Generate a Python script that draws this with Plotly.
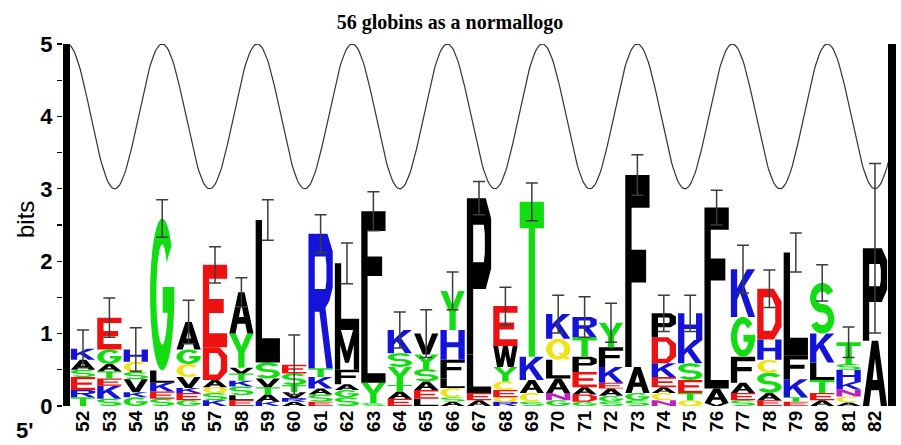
import math
import plotly.graph_objects as go

# ---------------- data ----------------
positions = list(range(52, 83))
tick_labels = [str(p) for p in positions]

# letters of each stack, bottom -> top
stack_letters = [
    "TRESAK", "SKETAGE", "GKVSCH", "SEKLG", "GEKVCGA", "KSQADE", "ELSKTVYA",
    "KATVSL", "ARVTSE", "ESAKTR", "SGAFML", "SYLF", "EATYSK", "LEASYV",
    "ASCLFHY", "AELP", "RQECYWE", "SCAKT", "GNALQK", "GDAEPTR", "SGAEKFY",
    "SGAF", "NCAEKDP", "QTESKH", "VALF", "SEAFGK", "EASCHD", "ETKFL",
    "AETLKS", "ACNKHST", "AP",
]
# heights in bits, bottom -> top
stack_heights = [
    [0.12, 0.10, 0.18, 0.10, 0.14, 0.15],
    [0.10, 0.18, 0.10, 0.10, 0.10, 0.20, 0.44],
    [0.12, 0.07, 0.18, 0.10, 0.14, 0.17],
    [0.10, 0.10, 0.12, 0.17, 2.10],
    [0.08, 0.10, 0.07, 0.15, 0.18, 0.20, 0.38],
    [0.08, 0.10, 0.08, 0.10, 0.45, 1.14],
    [0.08, 0.07, 0.12, 0.08, 0.10, 0.08, 0.47, 0.57],
    [0.06, 0.10, 0.10, 0.12, 0.22, 1.97],
    [0.06, 0.05, 0.08, 0.10, 0.16, 0.12],
    [0.06, 0.10, 0.08, 0.16, 0.12, 1.86],
    [0.12, 0.10, 0.08, 0.20, 0.55, 0.92],
    [0.04, 0.28, 0.77, 1.60],
    [0.10, 0.10, 0.09, 0.25, 0.19, 0.32],
    [0.10, 0.12, 0.12, 0.17, 0.20, 0.29],
    [0.06, 0.06, 0.13, 0.13, 0.26, 0.41, 0.54],
    [0.08, 0.10, 0.53, 2.16],
    [0.06, 0.06, 0.10, 0.12, 0.20, 0.29, 0.55],
    [0.06, 0.12, 0.18, 0.32, 2.14],
    [0.08, 0.10, 0.20, 0.26, 0.29, 0.34],
    [0.06, 0.10, 0.10, 0.21, 0.21, 0.27, 0.28],
    [0.06, 0.08, 0.10, 0.08, 0.22, 0.27, 0.34],
    [0.08, 0.10, 0.36, 2.65],
    [0.08, 0.10, 0.08, 0.14, 0.19, 0.36, 0.33],
    [0.08, 0.10, 0.18, 0.23, 0.32, 0.37],
    [0.04, 0.20, 0.70, 1.80],
    [0.08, 0.10, 0.14, 0.36, 0.55, 0.66],
    [0.08, 0.10, 0.28, 0.18, 0.28, 0.70],
    [0.06, 0.06, 0.25, 0.33, 1.42],
    [0.08, 0.10, 0.18, 0.24, 0.40, 0.70],
    [0.05, 0.08, 0.10, 0.10, 0.17, 0.08, 0.30],
    [0.90, 1.28],
]
# top of the error bar (bits)
error_tops = [
    1.05, 1.49, 1.08, 2.85, 1.46, 2.20, 1.77, 2.85, 0.98, 2.64, 2.25, 2.96,
    1.30, 1.33, 1.85, 3.10, 1.64, 3.08, 1.53, 1.51, 1.42, 3.47, 1.53, 1.53,
    2.98, 2.22, 1.88, 2.39, 1.95, 1.09, 3.35,
]

# helical wave (3.6 residues per turn)
wave_mid = 4.0
wave_amp = 1.0
wave_period = 3.6
wave_peak_pos = 55.0
wave_start, wave_end = 51.4, 82.55

title_text = "56 globins as a normallogo"

colors = {
    "G": "#12dd12", "S": "#12dd12", "T": "#12dd12", "Y": "#12dd12",
    "K": "#1414d8", "R": "#1414d8", "H": "#1414d8",
    "D": "#ee1111", "E": "#ee1111",
    "C": "#efe31a", "Q": "#efe31a", "N": "#c020c0",
}
BLACK = "#000000"

# ---------------- glyphs (unit box) ----------------
SW = 0.26
BH = 0.17


def arc(cx, cy, rx, ry, a0, a1, n=28):
    pts = []
    for i in range(n + 1):
        a = math.radians(a0 + (a1 - a0) * i / n)
        pts.append((cx + rx * math.cos(a), cy + ry * math.sin(a)))
    return pts


def rect(x0, y0, x1, y1):
    return [(x0, y0), (x1, y0), (x1, y1), (x0, y1)]


def glyph(ch):
    m = 0.5 - BH / 2
    if ch == "E":
        return [([(0, 0), (1, 0), (1, BH), (SW, BH), (SW, m), (0.86, m), (0.86, m + BH),
                  (SW, m + BH), (SW, 1 - BH), (1, 1 - BH), (1, 1), (0, 1)], False)]
    if ch == "F":
        return [([(0, 0), (SW, 0), (SW, 0.44), (0.86, 0.44), (0.86, 0.61), (SW, 0.61),
                  (SW, 1 - BH), (1, 1 - BH), (1, 1), (0, 1)], False)]
    if ch == "L":
        return [([(0, 0), (1, 0), (1, BH), (SW, BH), (SW, 1), (0, 1)], False)]
    if ch == "T":
        a, b = 0.5 - SW / 2, 0.5 + SW / 2
        return [([(0, 1), (0, 1 - BH), (a, 1 - BH), (a, 0), (b, 0), (b, 1 - BH),
                  (1, 1 - BH), (1, 1)], False)]
    if ch == "I":
        return [(rect(0.34, 0, 0.66, 1), False)]
    if ch == "H":
        return [([(0, 0), (SW, 0), (SW, m), (1 - SW, m), (1 - SW, 0), (1, 0), (1, 1),
                  (1 - SW, 1), (1 - SW, m + BH), (SW, m + BH), (SW, 1), (0, 1)], False)]
    if ch == "P":
        outer = [(0, 0), (SW, 0), (SW, 0.42), (0.78, 0.42), (1, 0.55), (1, 0.87),
                 (0.78, 1), (0, 1)]
        hole = [(SW, 0.59), (0.7, 0.59), (1 - SW, 0.65), (1 - SW, 0.77), (0.7, 1 - BH),
                (SW, 1 - BH)]
        return [(outer, False), (hole, True)]
    if ch == "R":
        outer = [(0, 0), (SW, 0), (SW, 0.42), (0.45, 0.42), (0.74, 0), (1, 0),
                 (0.7, 0.45), (0.86, 0.5), (1, 0.6), (1, 0.87), (0.78, 1), (0, 1)]
        hole = [(SW, 0.59), (0.7, 0.59), (1 - SW, 0.65), (1 - SW, 0.77), (0.7, 1 - BH),
                (SW, 1 - BH)]
        return [(outer, False), (hole, True)]
    if ch == "D":
        outer = [(0, 0), (0.68, 0), (1, 0.25), (1, 0.75), (0.68, 1), (0, 1)]
        hole = [(SW, BH), (0.6, BH), (1 - SW, 0.33), (1 - SW, 0.67), (0.6, 1 - BH),
                (SW, 1 - BH)]
        return [(outer, False), (hole, True)]
    if ch == "K":
        return [([(0, 0), (SW, 0), (SW, 0.36), (0.38, 0.5), (0.72, 0), (1, 0),
                  (0.56, 0.64), (1, 1), (0.66, 1), (SW, 0.6), (SW, 1), (0, 1)], False)]
    if ch == "A":
        outer = [(0, 0), (0.26, 0), (0.34, 0.24), (0.66, 0.24), (0.74, 0), (1, 0),
                 (0.63, 1), (0.37, 1)]
        hole = [(0.4, 0.4), (0.6, 0.4), (0.5, 0.72)]
        return [(outer, False), (hole, True)]
    if ch == "V":
        return [([(0, 1), (0.36, 0), (0.64, 0), (1, 1), (0.74, 1), (0.5, 0.28),
                  (0.26, 1)], False)]
    if ch == "Y":
        return [([(0, 1), (0.37, 0.45), (0.37, 0), (0.63, 0), (0.63, 0.45), (1, 1),
                  (0.73, 1), (0.5, 0.62), (0.27, 1)], False)]
    if ch == "W":
        return [([(0, 1), (0.16, 0), (0.4, 0), (0.5, 0.55), (0.6, 0), (0.84, 0), (1, 1),
                  (0.8, 1), (0.7, 0.35), (0.6, 1), (0.4, 1), (0.3, 0.35), (0.2, 1)], False)]
    if ch == "M":
        return [([(0, 0), (0.22, 0), (0.22, 0.62), (0.42, 0.18), (0.58, 0.18),
                  (0.78, 0.62), (0.78, 0), (1, 0), (1, 1), (0.75, 1), (0.5, 0.45),
                  (0.25, 1), (0, 1)], False)]
    if ch == "N":
        return [([(0, 0), (0.24, 0), (0.24, 0.6), (0.76, 0), (1, 0), (1, 1), (0.76, 1),
                  (0.76, 0.4), (0.24, 1), (0, 1)], False)]
    if ch == "C":
        outer = arc(0.5, 0.5, 0.5, 0.5, 45, 315)
        inner = arc(0.5, 0.5, 0.5 - SW, 0.5 - BH, 315, 45)
        return [(outer + inner, False)]
    if ch == "G":
        outer = arc(0.5, 0.5, 0.5, 0.5, 40, 360)
        bar = [(1, 0.55), (0.52, 0.55), (0.52, 0.38), (1 - SW, 0.38)]
        inner = arc(0.5, 0.5, 0.5 - SW, 0.5 - BH, 340, 40)
        return [(outer + bar + inner, False)]
    if ch == "Q":
        outer = arc(0.5, 0.5, 0.5, 0.5, 0, 360)[:-1]
        hole = arc(0.5, 0.5, 0.5 - SW, 0.5 - BH, 0, 360)[:-1]
        tail = [(0.5, 0.3), (0.82, 0.0), (1.0, 0.02), (0.68, 0.34)]
        return [(outer, False), (hole, True), (tail, False)]
    if ch == "S":
        roy, riy = 0.2925, 0.1225
        cu, cl = 1 - roy, roy
        rox, rix = 0.5, 0.5 - SW
        e1 = arc(0.5, cu, rox, roy, 25, 270) + arc(0.5, cl, rix, riy, 90, -155)
        e2 = arc(0.5, cl, rox, roy, -155, 90) + arc(0.5, cu, rix, riy, 270, 25)
        return [(e1 + e2, False)]
    return [(rect(0, 0, 1, 1), False)]


def signed_area(poly):
    s = 0.0
    for i in range(len(poly)):
        x0, y0 = poly[i]
        x1, y1 = poly[(i + 1) % len(poly)]
        s += x0 * y1 - x1 * y0
    return s / 2


LETTER_W = 0.92


def letter_path(ch, xc, y0, h):
    parts = []
    for poly, hole in glyph(ch):
        a = signed_area(poly)
        if (a < 0 and not hole) or (a > 0 and hole):
            poly = poly[::-1]
        pts = [(xc - LETTER_W / 2 + px * LETTER_W, y0 + py * h) for px, py in poly]
        parts.append("M " + " L ".join(f"{x:.4f},{y:.4f}" for x, y in pts) + " Z")
    return " ".join(parts)


# ---------------- layout geometry ----------------
W, H = 901, 445
L, R, T, B = 63, 5, 44, 39
px_per_pos = 26.4
x_lo = 52 - (83 - L) / px_per_pos
x_hi = x_lo + (W - L - R) / px_per_pos
plot_w = W - L - R


def paper_x(px):
    return (px - L) / plot_w


# ---------------- figure ----------------
fig = go.Figure()

shapes = []
totals = []
for pos, letters, heights in zip(positions, stack_letters, stack_heights):
    y = 0.0
    for ch, h in zip(letters, heights):
        shapes.append(dict(
            type="path", path=letter_path(ch, pos, y, h), xref="x", yref="y",
            fillcolor=colors.get(ch, BLACK), line=dict(width=0),
            layer="between", fillrule="nonzero",
        ))
        y += h
    totals.append(y)

# thick left and right frame bars spanning 0..5 bits
shapes.append(dict(type="rect", xref="paper", yref="y", x0=paper_x(63), x1=paper_x(70),
                   y0=0, y1=5, fillcolor="black", line=dict(width=0), layer="above"))
shapes.append(dict(type="rect", xref="paper", yref="y", x0=paper_x(888), x1=paper_x(896),
                   y0=0, y1=5, fillcolor="black", line=dict(width=0), layer="above"))

errs = [max(t - s, 0) for t, s in zip(error_tops, totals)]

n_wave = 600
wave_x = [wave_start + (wave_end - wave_start) * i / n_wave for i in range(n_wave + 1)]
wave_y = [wave_mid + wave_amp * math.cos(2 * math.pi * (x - wave_peak_pos) / wave_period)
          for x in wave_x]

fig.add_trace(go.Scatter(
    x=wave_x, y=wave_y, mode="lines", line=dict(color="#333333", width=1.2),
    hoverinfo="skip", showlegend=False,
))
fig.add_trace(go.Scatter(
    x=positions, y=totals, mode="markers",
    marker=dict(size=2, color="rgba(0,0,0,0)"),
    error_y=dict(type="data", array=errs, symmetric=True, visible=True,
                 color="#3c3c3c", thickness=1.5, width=6),
    showlegend=False,
))

ytick_vals = [i * 0.5 for i in range(11)]
ytick_text = [str(int(v)) if v == int(v) else "" for v in ytick_vals]

fig.update_layout(
    width=W, height=H,
    margin=dict(l=L, r=R, t=T, b=B, pad=0),
    paper_bgcolor="white", plot_bgcolor="white",
    shapes=shapes,
    showlegend=False,
    title=dict(text=title_text, x=450 / W, xref="container", xanchor="center",
               y=1 - 22 / H, yref="container", yanchor="middle",
               font=dict(family="Liberation Serif", size=20, color="black", weight="bold")),
    xaxis=dict(range=[x_lo, x_hi], tickvals=positions, ticktext=tick_labels,
               tickangle=-90, showgrid=False, zeroline=False, showline=False,
               ticks="", fixedrange=True,
               tickfont=dict(family="Liberation Sans", size=19, color="black", weight="bold")),
    yaxis=dict(range=[0, 5], tickvals=ytick_vals, ticktext=ytick_text,
               showgrid=False, zeroline=False, showline=False,
               ticks="outside", ticklen=5, tickwidth=1.2, tickcolor="black",
               fixedrange=True,
               tickfont=dict(family="Liberation Sans", size=22, color="black", weight="bold")),
    annotations=[
        dict(text="bits", xref="paper", yref="paper",
             x=paper_x(25), y=(H - B - 220) / (H - T - B),
             textangle=-90, showarrow=False, xanchor="center", yanchor="middle",
             font=dict(family="Liberation Sans", size=24, color="black")),
        dict(text="5'", xref="paper", yref="paper",
             x=paper_x(24), y=(H - B - 430) / (H - T - B),
             showarrow=False, xanchor="center", yanchor="middle",
             font=dict(family="Liberation Sans", size=22, color="black", weight="bold")),
    ],
)

fig.write_html(
    "out.html",
    config={"displayModeBar": False, "staticPlot": True},
    post_script="document.body.style.margin='0';document.body.style.overflow='hidden';",
)
